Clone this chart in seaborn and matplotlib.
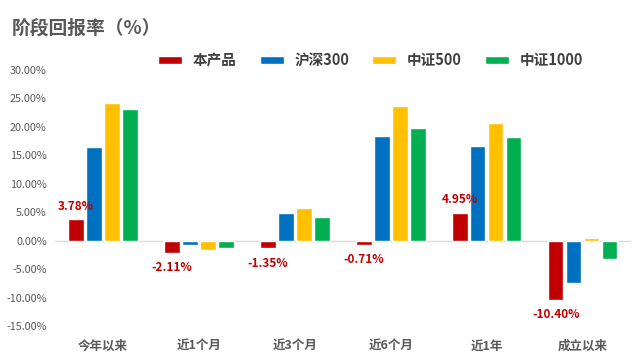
import matplotlib
matplotlib.use('Agg')
import matplotlib.pyplot as plt
import pandas as pd
import seaborn as sns

periods = ['今年以来', '近1个月', '近3个月', '近6个月', '近1年', '成立以来']
series = ['本产品', '沪深300', '中证500', '中证1000']
product = [3.78, -2.11, -1.35, -0.71, 4.95, -10.40]
hs300 = [16.5, -0.8, 4.9, 18.4, 16.7, -7.4]
zz500 = [24.2, -1.7, 5.8, 23.7, 20.7, 0.5]
zz1000 = [23.2, -1.3, 4.2, 19.8, 18.2, -3.2]
colors = ['#C00000', '#0070C0', '#FFC000', '#00B050']

rows = []
for name, vals in zip(series, [product, hs300, zz500, zz1000]):
    for p, v in zip(periods, vals):
        rows.append({'period': p, 'series': name, 'value': v})
df = pd.DataFrame(rows)

sns.set_style('white')
plt.rcParams['font.family'] = ['Noto Sans CJK SC', 'DejaVu Sans']

fig = plt.figure(figsize=(6.41, 3.6), dpi=100)
ax = fig.add_axes([0.086, 0.094, 0.898, 0.712])

sns.barplot(data=df, x='period', y='value', hue='series', order=periods,
            hue_order=series, palette=colors, width=0.75, gap=0.15,
            saturation=1, ax=ax, legend=True)

ax.set_xlim(-0.5, 5.5)
ax.set_ylim(-15, 30)
ax.set_yticks(range(-15, 31, 5))
ax.set_yticklabels([f'{t:.2f}%' for t in range(-15, 31, 5)], fontsize=7.8, color='#595959')
ax.set_xticklabels(periods, fontsize=9, fontweight='bold', color='#595959')
ax.tick_params(axis='both', length=0, pad=6)
ax.tick_params(axis='x', pad=10)
ax.set_xlabel('')
ax.set_ylabel('')
for s in ax.spines.values():
    s.set_visible(False)
ax.axhline(0, color='#D9D9D9', lw=1, zorder=0)

# data labels for the product series
for bar, v in zip(ax.containers[0], product):
    cx = bar.get_x() + bar.get_width() / 2
    off = 2.3 if v >= 0 else -2.6
    ax.text(cx, v + off, f'{v:.2f}%', ha='center', va='center',
            fontsize=8.5, fontweight='bold', color='#C00000')

handles, labels = ax.get_legend_handles_labels()
ax.get_legend().remove()
fig.legend(handles, labels, loc='center', bbox_to_anchor=(0.578, 0.833), ncol=4,
           frameon=False, handlelength=1.65, handleheight=0.55, handletextpad=0.75,
           columnspacing=1.55, prop={'size': 10.5, 'weight': 'bold'},
           labelcolor='#404040')

fig.text(0.018, 0.922, '阶段回报率（%）', fontsize=13.5, fontweight='bold',
         color='#595959', va='center')

fig.savefig('out.png', dpi=100)
